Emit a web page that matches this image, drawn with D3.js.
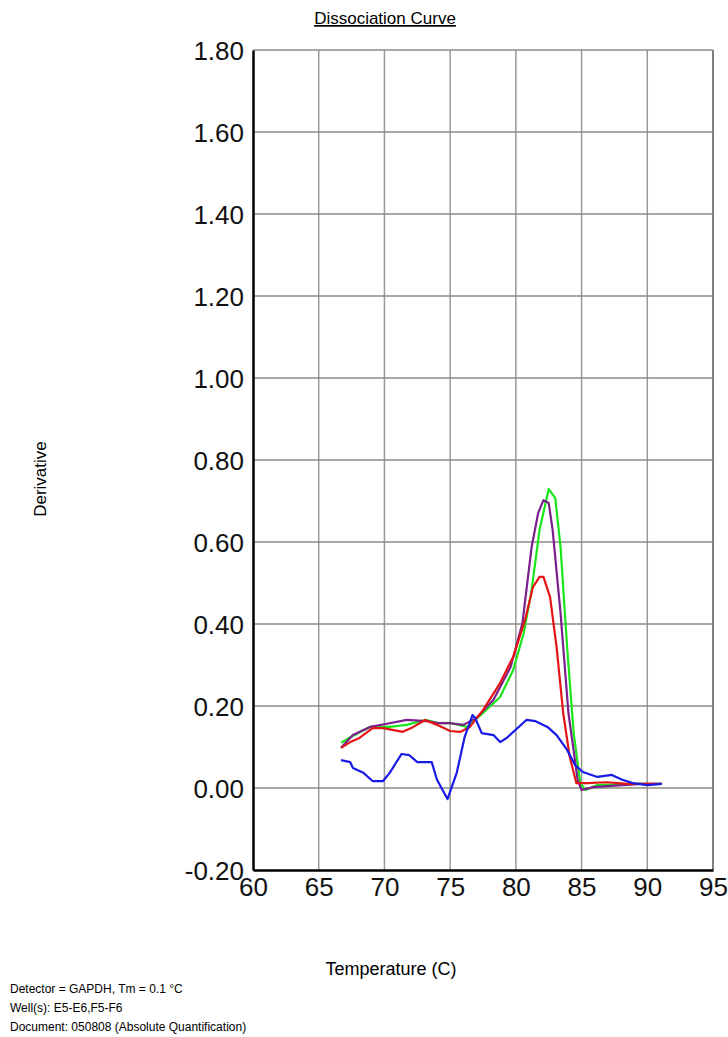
<!DOCTYPE html>
<html>
<head>
<meta charset="utf-8">
<script src="https://cdn.jsdelivr.net/npm/d3@7"></script>
<style>
  body { margin: 0; background: #fff; }
  text { font-family: Arial, "Liberation Sans", sans-serif; }
</style>
</head>
<body>
<div id="chart"></div>
<script>
var svgW = 728;
var svgH = 1037;

var margin = { left: 253, right: 15, top: 50, bottom: 167 };
var chartW = svgW - margin.left - margin.right;
var chartH = svgH - margin.top - margin.bottom;

// data: temperature / derivative
var greenTemp = [66.7, 67.4, 68.9, 70.4, 71.7, 73.1, 74.2, 75.0, 76.3, 77.5, 78.8, 79.8, 80.6, 81.2, 81.8, 82.5, 83.0, 83.4, 83.9, 84.4, 84.9, 85.3, 86.2, 89.5, 91.1];
var greenVal  = [0.11, 0.124, 0.149, 0.149, 0.154, 0.166, 0.158, 0.159, 0.149, 0.183, 0.222, 0.288, 0.378, 0.483, 0.629, 0.729, 0.707, 0.588, 0.344, 0.134, 0.012, -0.005, 0.007, 0.010, 0.010];

var purpleTemp = [66.7, 67.6, 68.9, 70.4, 71.7, 73.2, 74.2, 75.0, 76.0, 77.0, 78.3, 79.6, 80.5, 81.2, 81.7, 82.1, 82.5, 82.8, 83.4, 84.0, 84.7, 85.0, 85.9, 89.5, 91.1];
var purpleVal  = [0.098, 0.129, 0.149, 0.158, 0.166, 0.163, 0.158, 0.158, 0.154, 0.171, 0.215, 0.295, 0.402, 0.588, 0.671, 0.702, 0.695, 0.629, 0.427, 0.183, 0.020, -0.005, 0.002, 0.010, 0.010];

var redTemp = [66.7, 67.4, 68.1, 69.1, 69.9, 70.7, 71.4, 72.2, 73.1, 74.0, 75.0, 75.8, 76.5, 77.5, 78.8, 79.8, 80.7, 81.3, 81.8, 82.1, 82.6, 83.1, 83.6, 84.1, 84.6, 85.4, 86.9, 88.5, 91.1];
var redVal  = [0.098, 0.112, 0.122, 0.146, 0.146, 0.141, 0.137, 0.149, 0.166, 0.154, 0.139, 0.137, 0.149, 0.190, 0.256, 0.320, 0.410, 0.490, 0.515, 0.515, 0.466, 0.344, 0.183, 0.076, 0.012, 0.012, 0.014, 0.010, 0.010];

var blueTemp = [66.7, 67.4, 67.6, 68.4, 69.1, 69.9, 70.4, 71.3, 71.9, 72.5, 73.6, 74.0, 74.8, 75.5, 76.1, 76.7, 76.9, 77.4, 78.3, 78.8, 79.3, 80.8, 81.5, 82.4, 83.1, 83.9, 84.5, 85.1, 86.2, 87.3, 88.1, 88.9, 90.0, 91.1];
var blueVal  = [0.068, 0.063, 0.049, 0.037, 0.017, 0.017, 0.037, 0.083, 0.080, 0.063, 0.063, 0.020, -0.027, 0.037, 0.124, 0.178, 0.171, 0.134, 0.129, 0.112, 0.122, 0.166, 0.163, 0.149, 0.129, 0.093, 0.056, 0.039, 0.027, 0.032, 0.020, 0.012, 0.007, 0.010];

var xTicks = [60, 65, 70, 75, 80, 85, 90, 95];
var yTicks = [-0.2, 0, 0.2, 0.4, 0.6, 0.8, 1.0, 1.2, 1.4, 1.6, 1.8];

var series = [
    { color: "#19e619", t: greenTemp, v: greenVal },
    { color: "#7b1f8c", t: purpleTemp, v: purpleVal },
    { color: "#e51414", t: redTemp, v: redVal },
    { color: "#1a1ae6", t: blueTemp, v: blueVal }
];

var svg = d3.select("#chart")
    .append("svg")
    .attr("width", svgW)
    .attr("height", svgH);
var g = svg.append("g")
    .attr("transform", `translate(${margin.left}, ${margin.top})`);

var xScale = d3.scaleLinear().domain([60, 95]).range([0, chartW]);
var yScale = d3.scaleLinear().domain([-0.2, 1.8]).range([chartH, 0]);

// grid
g.selectAll(".vgrid")
    .data(xTicks.slice(1))
    .enter()
    .append("line")
    .attr("x1", d => xScale(d))
    .attr("x2", d => xScale(d))
    .attr("y1", 0)
    .attr("y2", chartH)
    .attr("stroke", d => d === 95 ? "#555" : "#999")
    .attr("stroke-width", 1.5);

g.selectAll(".hgrid")
    .data(yTicks.slice(1))
    .enter()
    .append("line")
    .attr("x1", 0)
    .attr("x2", chartW)
    .attr("y1", d => yScale(d))
    .attr("y2", d => yScale(d))
    .attr("stroke", "#8c8c80")
    .attr("stroke-width", 1.5);

// axes
var bottomAxis = d3.axisBottom(xScale).tickValues(xTicks).tickSize(0).tickPadding(7);
var leftAxis = d3.axisLeft(yScale).tickValues(yTicks).tickSize(0).tickPadding(9)
    .tickFormat(d => d3.format(".2f")(d).replace("\u2212", "-"));

var xAxisG = g.append("g")
    .attr("transform", `translate(0, ${chartH})`)
    .call(bottomAxis);
var yAxisG = g.append("g").call(leftAxis);

[xAxisG, yAxisG].forEach(a => {
    a.select(".domain").attr("stroke", "#000").attr("stroke-width", 2.5);
    a.selectAll("text")
        .attr("font-size", 26)
        .attr("fill", "#111")
        .attr("font-family", "Arial, 'Liberation Sans', sans-serif");
});
yAxisG.selectAll("text").attr("dy", "0.38em");
xAxisG.selectAll("text").attr("dy", "0.72em");

// curves
var line = d3.line()
    .x(d => xScale(d[0]))
    .y(d => yScale(d[1]));

series.forEach(s => {
    var pts = s.t.map((t, i) => [t, s.v[i]]);
    g.append("path")
        .datum(pts)
        .attr("d", line)
        .attr("fill", "none")
        .attr("stroke", s.color)
        .attr("stroke-width", 2.2)
        .attr("stroke-linejoin", "round");
});

// title
svg.append("text")
    .attr("x", 385)
    .attr("y", 24)
    .attr("text-anchor", "middle")
    .attr("font-size", 17)
    .attr("text-decoration", "underline")
    .text("Dissociation Curve");

svg.append("text")
    .attr("transform", "translate(46, 479) rotate(-90)")
    .attr("text-anchor", "middle")
    .attr("font-size", 17)
    .text("Derivative");

svg.append("text")
    .attr("x", 391)
    .attr("y", 975)
    .attr("text-anchor", "middle")
    .attr("font-size", 18)
    .text("Temperature (C)");

var footer = ["Detector = GAPDH, Tm = 0.1 \u00b0C", "Well(s): E5-E6,F5-F6", "Document: 050808 (Absolute Quantification)"];
footer.forEach((t, i) => {
    svg.append("text")
        .attr("x", 10)
        .attr("y", 993 + i * 19)
        .attr("font-size", 12)
        .text(t);
});
</script>
</body>
</html>
